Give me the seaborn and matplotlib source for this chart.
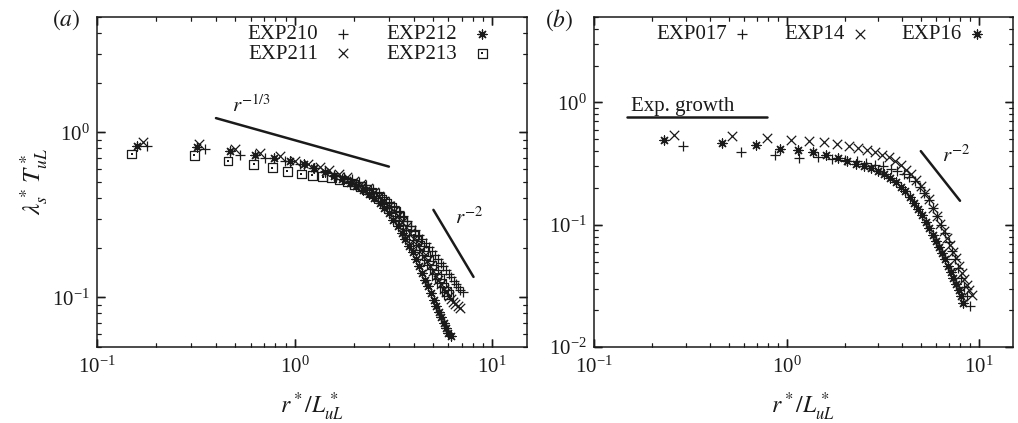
import matplotlib
matplotlib.use("Agg")
import matplotlib.pyplot as plt
from matplotlib.legend_handler import HandlerTuple
from matplotlib.ticker import LogLocator, NullFormatter
import seaborn as sns

# ---- panel (a): separation r*/L*_uL and lambda_s* T*_uL ----
r210 = [0.18, 0.35, 0.53, 0.71, 0.89, 1.06, 1.24, 1.42, 1.59, 1.77,
        1.95, 2.12, 2.30, 2.48, 2.66, 2.83, 3.01, 3.19, 3.36, 3.54,
        3.72, 3.89, 4.07, 4.25, 4.42, 4.60, 4.78, 4.96, 5.13, 5.31,
        5.49, 5.66, 5.84, 6.02, 6.20, 6.37, 6.55, 6.73, 6.90, 7.08]
y210 = [0.83, 0.79, 0.73, 0.70, 0.67, 0.64, 0.61, 0.58, 0.55, 0.535,
        0.52, 0.50, 0.48, 0.455, 0.43, 0.405, 0.38, 0.357, 0.335, 0.31,
        0.29, 0.272, 0.255, 0.24, 0.226, 0.213, 0.201, 0.19, 0.18, 0.171,
        0.162, 0.154, 0.146, 0.139, 0.132, 0.126, 0.12, 0.115, 0.111, 0.107]

r211 = [0.17, 0.33, 0.50, 0.67, 0.84, 1.00, 1.17, 1.34, 1.50, 1.67,
        1.84, 2.00, 2.17, 2.34, 2.51, 2.67, 2.84, 3.01, 3.17, 3.34,
        3.51, 3.67, 3.84, 4.01, 4.18, 4.34, 4.51, 4.68, 4.84, 5.01,
        5.18, 5.34, 5.51, 5.68, 5.84, 6.01, 6.18, 6.35, 6.51, 6.68, 6.85]
y211 = [0.87, 0.85, 0.79, 0.75, 0.72, 0.675, 0.645, 0.615, 0.59, 0.56,
        0.535, 0.51, 0.485, 0.46, 0.435, 0.41, 0.385, 0.36, 0.335, 0.31,
        0.288, 0.268, 0.245, 0.225, 0.208, 0.193, 0.179, 0.166, 0.154, 0.144,
        0.135, 0.127, 0.12, 0.113, 0.107, 0.102, 0.098, 0.094, 0.091, 0.088, 0.086]

r212 = [0.16, 0.32, 0.47, 0.63, 0.79, 0.95, 1.11, 1.26, 1.42, 1.58,
        1.74, 1.90, 2.05, 2.21, 2.37, 2.53, 2.69, 2.84, 3.00, 3.16,
        3.32, 3.48, 3.63, 3.79, 3.95, 4.11, 4.27, 4.42, 4.58, 4.74,
        4.90, 5.06, 5.21, 5.37, 5.53, 5.69, 5.85, 6.00, 6.16]
y212 = [0.83, 0.82, 0.77, 0.725, 0.70, 0.67, 0.64, 0.61, 0.575, 0.545,
        0.52, 0.495, 0.47, 0.45, 0.425, 0.40, 0.375, 0.35, 0.325, 0.295,
        0.27, 0.247, 0.225, 0.205, 0.187, 0.17, 0.155, 0.141, 0.128, 0.117,
        0.106, 0.097, 0.089, 0.082, 0.076, 0.07, 0.065, 0.061, 0.058]

r213 = [0.15, 0.31, 0.46, 0.62, 0.77, 0.92, 1.08, 1.23, 1.39, 1.54,
        1.69, 1.85, 2.00, 2.16, 2.31, 2.46, 2.62, 2.77, 2.93, 3.08,
        3.23, 3.39, 3.54, 3.70, 3.85, 4.00, 4.16, 4.31, 4.47, 4.62,
        4.77, 4.93, 5.08, 5.24, 5.39, 5.54, 5.70, 5.85, 6.01]
y213 = [0.74, 0.725, 0.67, 0.64, 0.61, 0.58, 0.56, 0.55, 0.54, 0.53,
        0.515, 0.50, 0.485, 0.47, 0.45, 0.43, 0.41, 0.39, 0.37, 0.35,
        0.33, 0.31, 0.29, 0.272, 0.255, 0.238, 0.222, 0.207, 0.193, 0.18,
        0.168, 0.157, 0.147, 0.138, 0.13, 0.122, 0.115, 0.109, 0.104]

# ---- panel (b) ----
r017 = [0.29, 0.58, 0.87, 1.16, 1.45, 1.73, 2.02, 2.31, 2.60, 2.89,
        3.18, 3.47, 3.76, 4.05, 4.34, 4.62, 4.91, 5.20, 5.49, 5.78,
        6.07, 6.36, 6.65, 6.94, 7.23, 7.51, 7.80, 8.09, 8.38, 8.67, 8.96]
y017 = [0.44, 0.395, 0.37, 0.35, 0.36, 0.346, 0.337, 0.33, 0.32, 0.31,
        0.30, 0.288, 0.274, 0.26, 0.244, 0.226, 0.205, 0.183, 0.16, 0.138,
        0.118, 0.10, 0.085, 0.072, 0.061, 0.052, 0.044, 0.037, 0.031, 0.026, 0.0218]

r14 = [0.26, 0.52, 0.79, 1.05, 1.31, 1.57, 1.83, 2.10, 2.36, 2.62,
       2.88, 3.14, 3.41, 3.67, 3.93, 4.19, 4.45, 4.72, 4.98, 5.24,
       5.50, 5.76, 6.03, 6.29, 6.55, 6.81, 7.07, 7.34, 7.60, 7.86,
       8.12, 8.38, 8.65, 8.91, 9.17]
y14 = [0.54, 0.53, 0.51, 0.49, 0.485, 0.475, 0.455, 0.44, 0.425, 0.41,
       0.395, 0.375, 0.355, 0.332, 0.308, 0.283, 0.258, 0.232, 0.207, 0.183,
       0.161, 0.138, 0.119, 0.102, 0.089, 0.078, 0.068, 0.06, 0.053, 0.046,
       0.04, 0.036, 0.032, 0.029, 0.0265]

r16 = [0.23, 0.46, 0.69, 0.92, 1.15, 1.38, 1.61, 1.84, 2.07, 2.30,
       2.53, 2.76, 2.99, 3.22, 3.45, 3.68, 3.91, 4.14, 4.37, 4.60,
       4.83, 5.06, 5.29, 5.52, 5.75, 5.98, 6.21, 6.44, 6.67, 6.90,
       7.13, 7.36, 7.59, 7.82, 8.05, 8.28]
y16 = [0.49, 0.47, 0.445, 0.42, 0.405, 0.39, 0.37, 0.35, 0.33, 0.315,
       0.30, 0.29, 0.275, 0.258, 0.24, 0.222, 0.205, 0.188, 0.17, 0.152,
       0.135, 0.12, 0.106, 0.094, 0.083, 0.074, 0.066, 0.059, 0.052, 0.046,
       0.041, 0.037, 0.033, 0.029, 0.026, 0.023]

# reference power laws and growth level
a_third_r, a_third_y = [0.40, 3.0], [1.22, 0.62]
a_sq_r, a_sq_y = [5.04, 8.04], [0.339, 0.133]
b_sq_r, b_sq_y = [4.98, 7.96], [0.40, 0.157]
b_growth_r, b_growth_y = [0.148, 0.796], [0.767, 0.767]

INK = "#1a1a1a"
sns.set_theme(style="ticks")
plt.rcParams.update({
    "font.family": ["Liberation Serif", "DejaVu Serif"],
    "mathtext.fontset": "stix",
    "font.size": 15,
    "text.color": INK,
    "axes.edgecolor": INK,
    "axes.labelcolor": INK,
    "axes.linewidth": 1.1,
    "xtick.major.pad": 7,
    "ytick.major.pad": 5,
})

W_PX, H_PX = 1018, 423
fig = plt.figure(figsize=(W_PX / 100, H_PX / 100), dpi=100)
pos1 = [0.0953, 0.1797, 0.4224, 0.7800]
pos2 = [0.5835, 0.1797, 0.4116, 0.7800]
ax1 = fig.add_axes(pos1)
ax2 = fig.add_axes(pos2)

ASTER = (8, 2, 0)
MS = 46


def pts(ax, x, y, marker, label, s=MS, lw=0.9):
    sns.scatterplot(x=x, y=y, marker=marker, s=s, color=INK, linewidth=lw,
                    ax=ax, label=label, legend=False)
    return ax.collections[-1]


for ax in (ax1, ax2):
    ax.set_xscale("log")
    ax.set_yscale("log")

# panel (a)
h210 = pts(ax1, r210, y210, "+", "EXP210")
h211 = pts(ax1, r211, y211, "x", "EXP211")
h212 = pts(ax1, r212, y212, ASTER, "EXP212", s=42)
sns.scatterplot(x=r213, y=y213, marker="s", s=40, facecolor="none",
                edgecolor=INK, linewidth=0.9, ax=ax1, legend=False)
h213a = ax1.collections[-1]
sns.scatterplot(x=r213, y=y213, marker="s", s=1.2, color=INK, linewidth=0,
                ax=ax1, legend=False)
h213b = ax1.collections[-1]

sns.lineplot(x=a_third_r, y=a_third_y, color=INK, lw=1.8, ax=ax1)
sns.lineplot(x=a_sq_r, y=a_sq_y, color=INK, lw=1.8, ax=ax1)
ax1.text(0.48, 1.33, r"$r^{-1/3}$", fontsize=15)
ax1.text(6.5, 0.28, r"$r^{-2}$", fontsize=15)

# panel (b)
h017 = pts(ax2, r017, y017, "+", "EXP017")
h14 = pts(ax2, r14, y14, "x", "EXP14")
h16 = pts(ax2, r16, y16, ASTER, "EXP16", s=42)
sns.lineplot(x=b_sq_r, y=b_sq_y, color=INK, lw=1.8, ax=ax2)
sns.lineplot(x=b_growth_r, y=b_growth_y, color=INK, lw=1.8, ax=ax2)
ax2.text(6.4, 0.325, r"$r^{-2}$", fontsize=15)
ax2.text(0.155, 0.85, "Exp. growth", fontsize=15)

ax1.set_ylabel(r"$\lambda^*_s\,T^*_{uL}$", fontsize=18, labelpad=2)

ax1.legend([h210, h211, h212, (h213a, h213b)],
           ["EXP210", "EXP211", "EXP212", "EXP213"],
           ncol=2, loc="upper right", bbox_to_anchor=(0.925, 0.99),
           frameon=False, markerfirst=False, handlelength=0.8,
           handletextpad=0.8, labelspacing=0.0, borderpad=0.2,
           borderaxespad=0, columnspacing=1.7, fontsize=15,
           handler_map={tuple: HandlerTuple(ndivide=1, pad=0)})
ax2.legend([h017, h14, h16], ["EXP017", "EXP14", "EXP16"], ncol=3,
           loc="upper right", bbox_to_anchor=(0.945, 0.99),
           frameon=False, markerfirst=False, handlelength=0.8,
           handletextpad=0.35, labelspacing=0, borderpad=0.2,
           borderaxespad=0, columnspacing=1.6, fontsize=15)

fig.text(0.051, 0.953, r"$(a)$", fontsize=17, va="center")
fig.text(0.535, 0.953, r"$(b)$", fontsize=17, va="center")

# axes limits and log locators
for ax, ylo in ((ax1, 0.05), (ax2, 0.01)):
    ax.set_xlim(0.1, 15)
    ax.set_ylim(ylo, 5)
    ax.set_xlabel(r"$r^*/L^*_{uL}$", fontsize=17, labelpad=9)
    for sp in ax.spines.values():
        sp.set_visible(True)
        sp.set_color(INK)
    for axis in (ax.xaxis, ax.yaxis):
        axis.set_major_locator(LogLocator(base=10))
        axis.set_minor_locator(LogLocator(base=10, subs=range(2, 10), numticks=20))
        axis.set_minor_formatter(NullFormatter())
    ax.tick_params(which="both", direction="in", top=True, right=True,
                   bottom=True, left=True, color=INK, labelcolor=INK,
                   labelsize=15)
    ax.tick_params(which="major", length=6, width=1.0)
    ax.tick_params(which="minor", length=3, width=0.8)

# inward tick marks on all four sides, placed at the axis locator positions
MAJ_PX, MIN_PX = 8.0, 4.0
for ax, pos in ((ax1, pos1), (ax2, pos2)):
    w_px, h_px = pos[2] * W_PX, pos[3] * H_PX
    xlo, xhi = ax.get_xlim()
    ylo, yhi = ax.get_ylim()
    xt = ax.get_xaxis_transform()
    yt = ax.get_yaxis_transform()
    for locs, length, lw in ((ax.xaxis.get_majorticklocs(), MAJ_PX, 1.0),
                             (ax.xaxis.get_minorticklocs(), MIN_PX, 0.8)):
        locs = [v for v in locs if xlo <= v <= xhi]
        f = length / h_px
        ax.vlines(locs, 0, f, transform=xt, colors=INK, linewidth=lw,
                  clip_on=False, zorder=4)
        ax.vlines(locs, 1 - f, 1, transform=xt, colors=INK, linewidth=lw,
                  clip_on=False, zorder=4)
    for locs, length, lw in ((ax.yaxis.get_majorticklocs(), MAJ_PX, 1.0),
                             (ax.yaxis.get_minorticklocs(), MIN_PX, 0.8)):
        locs = [v for v in locs if ylo <= v <= yhi]
        f = length / w_px
        ax.hlines(locs, 0, f, transform=yt, colors=INK, linewidth=lw,
                  clip_on=False, zorder=4)
        ax.hlines(locs, 1 - f, 1, transform=yt, colors=INK, linewidth=lw,
                  clip_on=False, zorder=4)
    ax.set_xlim(xlo, xhi)
    ax.set_ylim(ylo, yhi)

fig.savefig("out.png", dpi=100)
